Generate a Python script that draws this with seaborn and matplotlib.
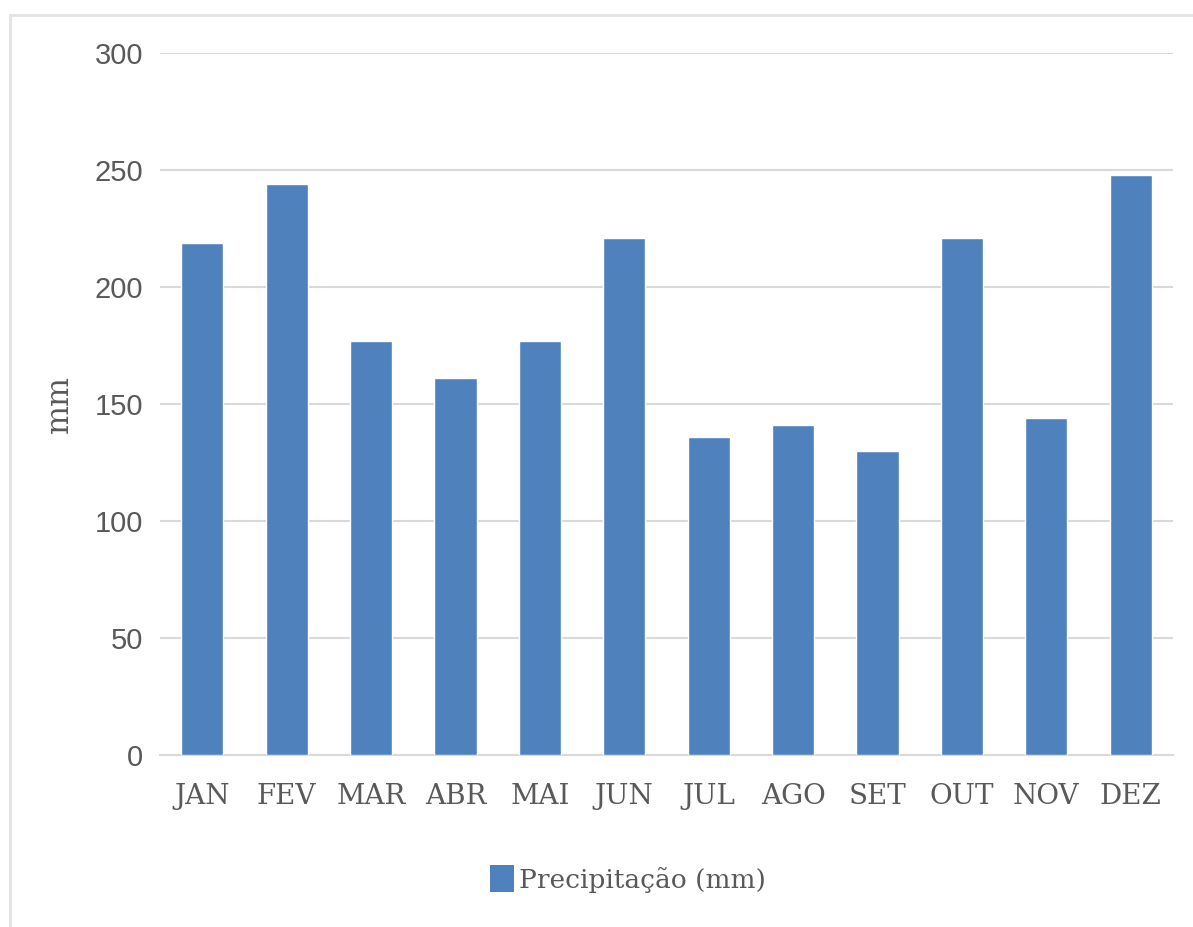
import matplotlib
matplotlib.use("Agg")
import matplotlib.pyplot as plt
from matplotlib import font_manager
from matplotlib.lines import Line2D
from matplotlib.patches import Patch
import seaborn as sns
import pandas as pd

months = ["JAN", "FEV", "MAR", "ABR", "MAI", "JUN", "JUL", "AGO", "SET", "OUT", "NOV", "DEZ"]
precip = [219, 244, 177, 161, 177, 221, 136, 141, 130, 221, 144, 248]
yticks = [0, 50, 100, 150, 200, 250, 300]
series_name = "Precipitação (mm)"

names = {f.name for f in font_manager.fontManager.ttflist}
sans_narrow = "Liberation Sans Narrow" if "Liberation Sans Narrow" in names else "Liberation Sans"
serif = "DejaVu Serif"

sns.set_theme(style="white")
plt.rcParams["font.family"] = [sans_narrow, "DejaVu Sans"]

df = pd.DataFrame({"month": months, "value": precip})

fig = plt.figure(figsize=(11.93, 9.27), dpi=100)
ax = fig.add_axes([160/1193, 1-755/927, (1173-160)/1193, (755-53)/927])

sns.barplot(data=df, x="month", y="value", color="#4F81BD", saturation=1,
            width=0.5, ax=ax, zorder=3)

ax.set_ylim(0, 300)
ax.set_yticks(yticks)
ax.set_yticklabels([str(v) for v in yticks], fontsize=21, color="#595959")
ax.set_xticklabels(months, fontsize=20, color="#595959", family=serif)
ax.tick_params(axis="both", length=0)
ax.tick_params(axis="y", pad=12)
ax.tick_params(axis="x", pad=20)
ax.yaxis.grid(True, color="#D9D9D9", linewidth=1.5, zorder=0)
ax.set_axisbelow(True)
for s in ["top", "right", "left"]:
    ax.spines[s].set_visible(False)
ax.spines["bottom"].set_color("#D9D9D9")
ax.spines["bottom"].set_linewidth(1.5)
ax.set_xlabel("")
ax.set_ylabel("mm", fontsize=22, color="#595959", family=serif, labelpad=14)

handles = [Patch(facecolor="#4F81BD", edgecolor="none")]
leg = fig.legend(handles, [series_name], loc="center", bbox_to_anchor=(628/1193, 1-879/927),
                 frameon=False, handlelength=0.9, handleheight=1.2, handletextpad=0.2,
                 prop={"family": serif, "size": 19})
for t in leg.get_texts():
    t.set_color("#595959")

# outer chart border (only left and top visible in the crop)
fig.add_artist(Line2D([10/1193, 10/1193], [0, 1-15/927], transform=fig.transFigure,
                      color="#E3E3E3", linewidth=2))
fig.add_artist(Line2D([10/1193, 1], [1-15/927, 1-15/927], transform=fig.transFigure,
                      color="#E3E3E3", linewidth=2))

fig.savefig("out.png", dpi=100, facecolor="white")
